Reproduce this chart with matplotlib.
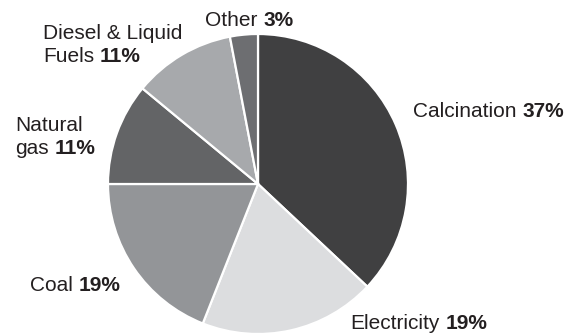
import matplotlib.pyplot as plt

# share of emissions by source
sources = ["Calcination", "Electricity", "Coal", "Natural gas", "Diesel & Liquid Fuels", "Other"]
shares = [37, 19, 19, 11, 11, 3]
colors = ["#404041", "#dcdddf", "#939598", "#636466", "#a7a9ac", "#6d6e71"]

# label text, split over lines; the last line carries the bold value
label_lines = [
    ["Calcination"],
    ["Electricity"],
    ["Coal"],
    ["Natural", "gas"],
    ["Diesel & Liquid", "Fuels"],
    ["Other"],
]
# left x and first baseline, in pixels from the top-left corner
label_pos = [(413, 117), (350, 329), (30, 291), (15, 131), (43, 39), (205, 26)]

W, H = 579, 336
TEXT = "#231f20"
FS = 15
LINE = 23.5

fig = plt.figure(figsize=(W / 100, H / 100), dpi=100)
ax = fig.add_axes([0, 0, 1, 1])

ax.pie(shares, colors=colors, startangle=90, counterclock=False,
       center=(258, H - 184), radius=150,
       wedgeprops=dict(edgecolor="white", linewidth=1.6))
ax.set_xlim(0, W)
ax.set_ylim(0, H)
ax.set_aspect("equal")
ax.axis("off")

renderer = fig.canvas.get_renderer()
font = ["Liberation Sans", "DejaVu Sans"]

for lines, share, (x, y) in zip(label_lines, shares, label_pos):
    for i, line in enumerate(lines):
        yy = H - (y + i * LINE)
        t = ax.text(x, yy, line, fontsize=FS, color=TEXT, family=font,
                    va="baseline", ha="left")
        if i == len(lines) - 1:
            bb = t.get_window_extent(renderer=renderer)
            gap = 0.278 * FS * 100 / 72
            ax.text(x + bb.width + gap, yy, f"{share}%", fontsize=FS,
                    color=TEXT, family=font, fontweight="bold",
                    va="baseline", ha="left")

fig.savefig("out.png", dpi=100)
